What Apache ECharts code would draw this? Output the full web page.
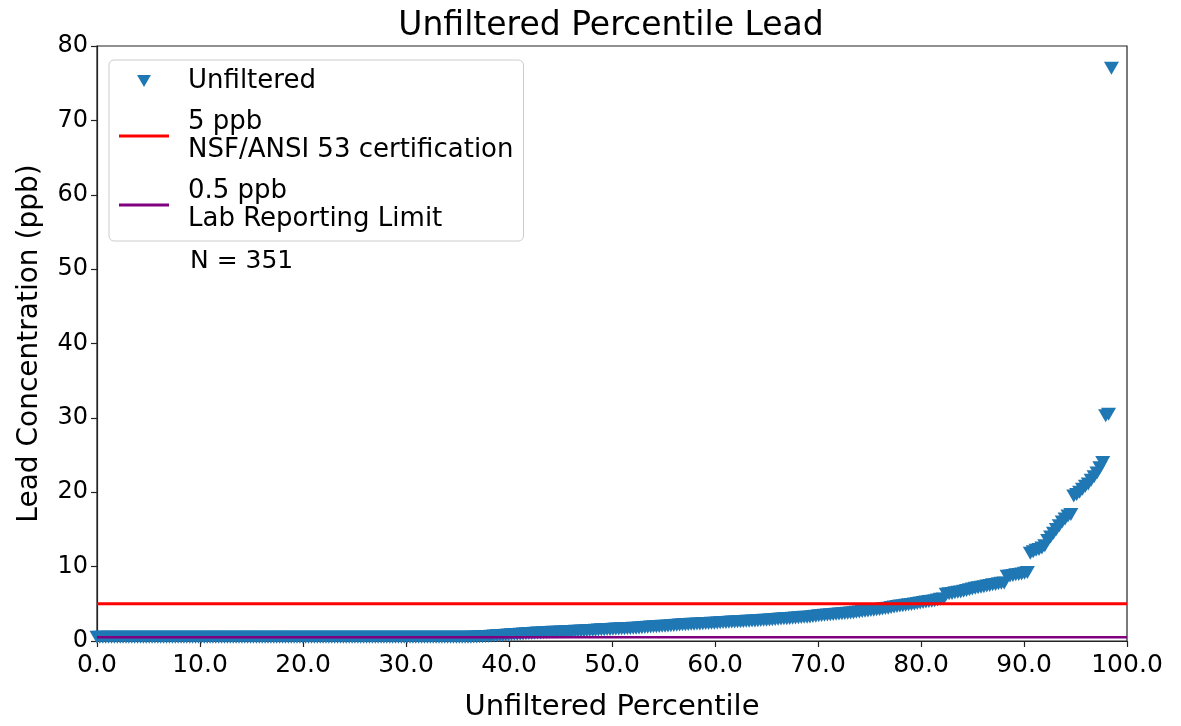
<!DOCTYPE html>
<html>
<head>
<meta charset="utf-8">
<script src="https://cdn.jsdelivr.net/npm/echarts@6/dist/echarts.min.js"></script>
<style>
html,body{margin:0;padding:0;background:#fff;}
#chart{width:1181px;height:726px;}
</style>
</head>
<body>
<div id="chart"></div>
<script>
// Sorted unfiltered lead concentrations (ppb), N = 351
const leadValues = [
  0.5,0.5,0.5,0.5,0.5,0.5,0.5,0.5,0.5,0.5,0.5,0.5,0.5,0.5,0.5,0.5,
  0.5,0.5,0.5,0.5,0.5,0.5,0.5,0.5,0.5,0.5,0.5,0.5,0.5,0.5,0.5,0.5,
  0.5,0.5,0.5,0.5,0.5,0.5,0.5,0.5,0.5,0.5,0.5,0.5,0.5,0.5,0.5,0.5,
  0.5,0.5,0.5,0.5,0.5,0.5,0.5,0.5,0.5,0.5,0.5,0.5,0.5,0.5,0.5,0.5,
  0.5,0.5,0.5,0.5,0.5,0.5,0.5,0.5,0.5,0.5,0.5,0.5,0.5,0.5,0.5,0.5,
  0.5,0.5,0.5,0.5,0.5,0.5,0.5,0.5,0.5,0.5,0.5,0.5,0.5,0.5,0.5,0.5,
  0.5,0.5,0.5,0.5,0.5,0.5,0.5,0.5,0.5,0.5,0.5,0.5,0.5,0.5,0.5,0.5,
  0.5,0.5,0.5,0.5,0.5,0.5,0.5,0.5,0.5,0.5,0.5,0.5,0.5,0.5,0.5,0.5,
  0.5,0.52,0.53,0.55,0.56,0.58,0.59,
  0.6,0.63,0.66,0.69,0.72,0.75,0.78,
  0.8,0.83,0.86,0.89,0.92,0.95,0.98,
  1.0,1.02,1.04,1.06,1.08,1.1,1.12,1.14,1.16,1.18,1.19,
  1.2,1.22,1.24,1.26,1.28,1.3,1.32,1.34,1.36,1.38,1.4,1.42,1.45,1.48,
  1.5,1.52,1.54,1.56,1.58,1.6,1.62,1.64,1.66,1.68,1.69,
  1.7,1.73,1.76,1.79,1.82,1.84,1.87,1.9,1.93,1.96,1.98,2.0,2.03,2.06,2.09,2.12,2.15,2.18,
  2.2,2.22,2.24,2.26,2.28,2.3,2.32,2.34,2.36,2.38,2.4,2.43,2.46,2.48,
  2.5,2.52,2.54,2.56,2.58,2.6,2.62,2.64,2.66,2.68,2.7,2.73,2.76,2.78,
  2.8,2.83,2.86,2.89,2.92,2.95,2.98,3.0,3.03,3.06,3.09,3.12,3.15,3.18,3.21,3.24,3.28,3.32,
  3.4,3.43,3.46,3.5,3.53,3.56,3.6,3.63,3.66,3.7,3.73,3.76,3.8,3.85,
  3.9,3.95,4.0,4.05,4.1,4.15,4.2,4.25,4.3,4.36,4.42,4.5,4.58,4.65,
  4.7,4.75,4.8,4.86,4.92,4.98,5.05,
  5.1,5.17,5.24,5.3,5.36,5.42,5.5,5.6,5.65,
  6.3,6.35,6.4,6.5,6.55,6.6,6.7,6.8,6.9,
  7.0,7.08,7.15,7.22,7.3,7.38,7.45,7.55,7.6,
  7.7,7.75,7.8,
  8.7,8.75,8.8,8.9,8.95,9.0,
  9.1,9.2,
  11.8,12.0,12.2,12.3,12.5,12.8,13.5,14.0,14.5,15.0,15.5,16.0,16.4,16.8,17.0,
  19.5,19.7,20.0,20.4,20.8,21.1,21.6,22.1,22.6,23.3,24.0,
  30.3,30.5,
  77.0
];
// percentile step per sorted sample as plotted in the figure
const percentileStep = 0.2814;
const xTicks = [0,10,20,30,40,50,60,70,80,90,100];
const yTicks = [0,10,20,30,40,50,60,70,80];
const certLimit = 5;      // NSF/ANSI 53 certification
const reportLimit = 0.5;  // Lab reporting limit
const sampleCount = 351;

const scatterData = leadValues.map((v, i) => [i * percentileStep, v]);
const downTri = 'path://M0,0L20,0L10,17.3Z';
const lineIcon = 'path://M0,0L50,0L50,3L0,3Z';
const FONT = 'DejaVu Sans';

const chart = echarts.init(document.getElementById('chart'));
chart.setOption({
  animation: false,
  backgroundColor: '#fff',
  textStyle: { fontFamily: FONT, color: '#000' },
  title: {
    text: 'Unfiltered Percentile Lead',
    left: 606, top: 5, textAlign: 'center',
    textStyle: { fontFamily: FONT, fontSize: 33, fontWeight: 'normal', color: '#000' }
  },
  grid: {
    left: 97, right: 54, top: 46, bottom: 85,
    containLabel: false, outerBoundsMode: 'none',
    show: true, borderColor: '#222', borderWidth: 1.2, backgroundColor: 'transparent'
  },
  xAxis: {
    type: 'value', min: xTicks[0], max: xTicks[xTicks.length - 1], interval: 10,
    name: 'Unfiltered Percentile', nameLocation: 'middle', nameGap: 52,
    nameTextStyle: { fontFamily: FONT, fontSize: 29, color: '#000' },
    axisLine: { show: true, lineStyle: { color: '#222', width: 1.2 } },
    axisTick: { show: true, length: 6, lineStyle: { color: '#222', width: 1.2 } },
    axisLabel: { fontFamily: FONT, fontSize: 25, color: '#000', margin: 12,
      formatter: v => v.toFixed(1) },
    splitLine: { show: false }
  },
  yAxis: {
    type: 'value', min: yTicks[0], max: yTicks[yTicks.length - 1], interval: 10,
    name: 'Lead Concentration (ppb)', nameLocation: 'middle', nameGap: 53,
    nameTextStyle: { fontFamily: FONT, fontSize: 28, color: '#000' },
    axisLine: { show: true, lineStyle: { color: '#222', width: 1.2 } },
    axisTick: { show: true, length: 6, lineStyle: { color: '#222', width: 1.2 } },
    axisLabel: { fontFamily: FONT, fontSize: 24, color: '#000', margin: 9 },
    splitLine: { show: false }
  },
  legend: {
    orient: 'vertical', left: 109, top: 60,
    padding: [7, 10, 8, 10],
    itemWidth: 50, itemHeight: 12, itemGap: 13,
    backgroundColor: 'rgba(255,255,255,0.85)',
    borderColor: '#cccccc', borderWidth: 1, borderRadius: 5,
    textStyle: { fontFamily: FONT, fontSize: 26, color: '#000', lineHeight: 28, padding: [0, 0, 0, 14] },
    data: [
      { name: 'Unfiltered', icon: downTri },
      { name: '5 ppb\nNSF/ANSI 53 certification', icon: lineIcon },
      { name: '0.5 ppb\nLab Reporting Limit', icon: lineIcon }
    ]
  },
  graphic: [{
    type: 'text', left: 190, top: 249,
    style: { text: 'N = ' + sampleCount, font: '25px "DejaVu Sans"', fill: '#000' }
  }],
  series: [
    {
      name: 'Unfiltered', type: 'scatter', data: scatterData,
      symbol: downTri, symbolSize: [15, 13],
      itemStyle: { color: '#1f77b4', opacity: 1 }, z: 2
    },
    {
      name: '5 ppb\nNSF/ANSI 53 certification', type: 'line',
      data: [[xTicks[0], certLimit], [xTicks[xTicks.length - 1], certLimit]],
      symbol: 'none', showSymbol: false,
      lineStyle: { color: '#ff0000', width: 3 }, itemStyle: { color: '#ff0000' }, z: 3
    },
    {
      name: '0.5 ppb\nLab Reporting Limit', type: 'line',
      data: [[xTicks[0], reportLimit], [xTicks[xTicks.length - 1], reportLimit]],
      symbol: 'none', showSymbol: false,
      lineStyle: { color: '#800080', width: 2.5 }, itemStyle: { color: '#800080' }, z: 3
    }
  ]
});
</script>
</body>
</html>
